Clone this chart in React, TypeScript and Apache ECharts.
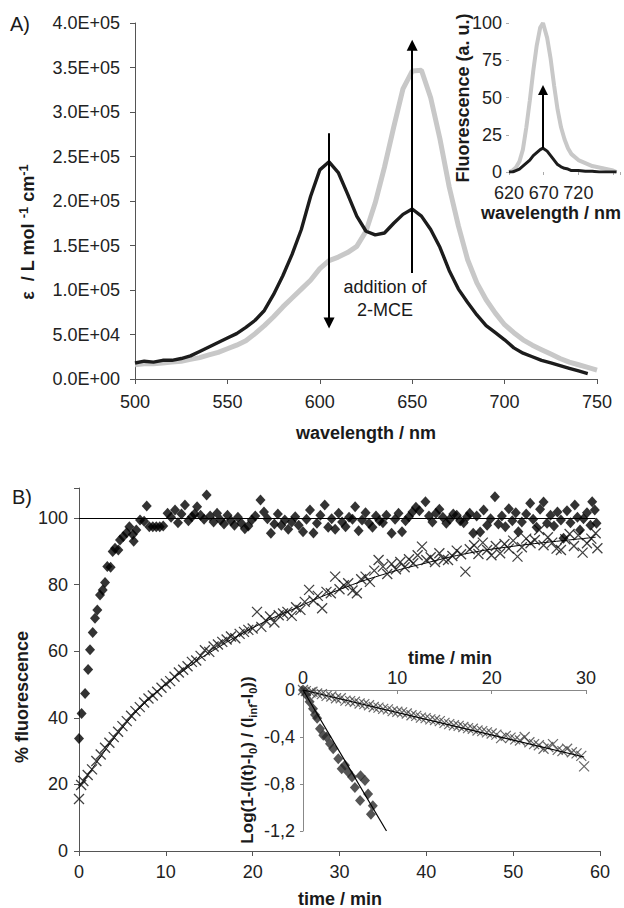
import React, { useEffect, useRef } from "react";
import * as echarts from "echarts";

const FONT = '"Liberation Sans", Arial, sans-serif';

// Panel A: absorption spectra (wavelength / nm, epsilon)
const absWavelength = [500,505,510,515,520,525,530,535,540,545,550,555,560,565,570,575,580,585,590,595,600,605,610,615,620,625,630,635,640,645,650,655,660,665,670,675,680,685,690,695,700,705,710,715,720,725,730,735,740,745,750];
const absBefore = [18000,20000,19000,21000,21000,23000,26000,31000,36000,41000,46000,51000,58000,66000,77000,95000,116000,140000,168000,205000,235000,244000,232000,208000,183000,166000,162000,164000,175000,185000,191000,183000,168000,148000,122000,101000,86000,72000,60000,52000,44000,35000,29000,25000,21000,18000,15000,12000,9000,6000];
const absAfter = [16000,17000,17000,18000,19000,20000,22000,24000,27000,30000,34000,38000,43000,51000,60000,70000,81000,91000,101000,111000,124000,133000,137000,142000,149000,166000,198000,238000,283000,326000,346000,347000,316000,270000,216000,172000,134000,108000,89000,74000,61000,52000,44000,38000,33000,28000,23000,19000,16000,13000,10000];

// Panel A inset: fluorescence spectra
const flWavelength = [620,625,630,635,640,645,650,655,660,665,669,675,680,685,690,695,700,705,710,720,730,740,750,760,770,775];
const flAfter = [0,1,3,7,15,30,48,68,85,97,100,90,76,58,42,30,22,16,12,8,6,4,3,2,1,0];
const flBefore = [0,0,1,2,4,6,8,11,13,15,16,14,11,8,5,3.5,2.5,2,1,1,0.5,0.5,0,0,0,0];

// Panel B: % fluorescence vs time / min
const diamondsB: number[][] = [
  [0,33.8],[0.3,41.3],[0.7,47.3],[1.05,54.5],[1.27,60.4],[1.58,65.6],[1.84,69.9],[2.11,72.4],[2.42,76.9],[2.73,78.4],
  [3.0,80.6],[3.26,85.4],[3.64,85.2],[3.88,89.9],[4.15,90.9],[4.53,90.4],[4.72,93.4],[5.1,94.4],[5.49,95.6],[5.8,97.4],
  [6.19,95],[6.3,93],[6.6,96.4],[7.03,99.4],[7.5,99],[7.8,103.6],[8.1,97.4],[8.5,97.4],[8.9,97.4],[9.3,97.4],
  [9.7,97.6],[10.2,101.4],[10.6,100.2],[11.06,102.4],[11.4,98.6],[11.8,101.2],[12.2,103.9],[12.6,99.2],[13.0,100.4],[13.3,101.2],
  [13.6,103.4],[14.0,100.8],[14.4,99.6],[14.7,106.9],[15.1,100.6],[15.5,98.8],[15.9,101.4],[16.3,99.4],[16.7,98.2],[17.1,100.8],
  [17.5,99.2],[17.9,97.8],[18.3,100.2],[18.7,98.4],[19.1,96.8],[19.5,97.6],[19.9,99.4],[20.3,100.6],[20.9,105.4],[21.3,101.8],
  [21.7,99.8],[22.1,95.4],[22.5,98.2],[22.9,101.2],[23.3,97.8],[23.7,99.4],[24.1,96.6],[24.5,98.8],[24.9,100.4],[25.3,97.8],
  [25.8,95.9],[26.2,99.6],[26.6,102.4],[27.0,95.5],[27.4,98.4],[27.8,100.8],[28.3,103.9],[28.7,97.2],[29.1,99.8],[29.5,96.6],
  [29.9,101.4],[30.3,98.8],[30.7,97.4],[31.1,100.2],[31.5,99.6],[31.8,103.4],[32.2,96.2],[32.6,99.4],[33.0,101.6],[33.4,98.4],
  [33.8,97.2],[34.2,100.6],[34.6,99.2],[35.0,98.6],[35.4,100.8],[36.0,95.4],[36.4,99.6],[36.8,101.4],[37.2,95.9],[37.6,99.2],
  [38.0,100.4],[38.4,101.8],[38.8,103.2],[39.2,102.2],[39.9,104.9],[40.3,100.6],[40.7,98.8],[41.1,101.4],[41.5,102.6],[41.9,100.2],
  [42.3,98.4],[42.7,99.6],[43.1,101.2],[43.5,100.8],[43.9,99.2],[44.3,98.6],[44.7,100.4],[45.0,101.4],[45.4,95.4],[45.8,100.6],
  [46.2,95.8],[46.6,102.4],[47.0,97.8],[47.4,99.8],[47.9,106.4],[48.3,98.2],[48.7,100.6],[49.1,97.4],[49.5,102.8],[49.9,99.2],
  [50.3,101.6],[50.6,95.9],[51.0,98.8],[51.5,101.2],[51.96,104.4],[52.3,99.6],[52.7,97.2],[53.1,102.6],[53.5,104.8],[53.9,98.4],
  [54.3,100.8],[54.7,97.6],[55.1,101.8],[55.5,99.4],[55.8,93.9],[56.2,102.2],[56.6,98.6],[57.1,103.9],[57.4,100.2],[57.7,96.4],
  [58.1,99.8],[58.5,101.6],[58.9,97.8],[59.1,104.9],[59.4,102.4],[59.6,98.4]
];
const crossesB: number[][] = [
  [0,15.6],[0.25,19.8],[0.5,21],[1,22.8],[1.5,24.5],[2,27],[2.5,29],[3,31],[3.5,32.5],[4,34.2],
  [4.5,35.8],[5,37.5],[5.5,39],[6,40.6],[6.5,42],[7,43.2],[7.5,44.6],[8,45.8],[8.5,46.7],[9,47.8],
  [9.5,49],[10,50.2],[10.5,51],[11,52.3],[11.5,53.6],[12,54.4],[12.5,55.5],[13,56.8],[13.5,57.2],[14,58.6],
  [14.5,60.3],[15,59.8],[15.5,61.4],[16,62],[16.5,62.8],[17,63.5],[17.5,64.4],[18,63.9],[18.5,65.2],[19,65.8],
  [19.5,66.4],[20,66.8],[20.5,71.8],[21,67.3],[21.5,69.2],[22,70.4],[22.5,68.6],[23,70.8],[23.5,71.3],[24,71.8],
  [24.5,70.6],[25,73.2],[25.5,72.4],[26,74.8],[26.5,78.4],[27,75.2],[27.5,76.6],[28,72.9],[28.5,77.8],[29,77.4],
  [29.5,82.4],[30,78.6],[30.5,79.8],[31,80.4],[31.5,78.2],[32,77.4],[32.5,81.6],[33,82.4],[33.5,80.8],[34,84.2],
  [34.5,87.4],[35,85.4],[35.5,83.2],[36,86.2],[36.5,84.6],[37,86.8],[37.5,85.2],[38,87.6],[38.5,86.4],[39,88.8],
  [39.5,91.4],[40,87.4],[40.5,88.2],[41,86.8],[41.5,89.4],[42,87.6],[42.5,87.4],[43,88.6],[43.5,90.2],[44,89.1],
  [44.5,83.9],[45,90.6],[45.5,91.8],[46,89.2],[46.5,92.6],[47,90.4],[47.5,88.8],[48,91.6],[48.5,89.4],[49,92.2],
  [49.5,90.8],[50,93.2],[50.5,88.4],[51,91.2],[51.5,93.8],[52,92.4],[52.5,93.4],[53,96.4],[53.5,91.8],[54,94.2],
  [54.5,92.6],[55,90.8],[55.5,90.4],[56,93.6],[56.5,95.2],[57,91.6],[57.5,94.8],[58,89.6],[58.5,92.4],[59,93.8],
  [59.5,95.4],[59.7,90.9]
];
const crossesFitB: number[][] = [[0,19],[2,26.5],[5,37],[8,45.5],[10,50],[13,56],[15,59.5],[20,67],[25,73],[30,78.5],[35,83],[40,86.5],[45,89.5],[50,91.5],[55,93],[59.5,94.2]];

// Panel B inset: Log(1-(I(t)-I0)/(Iinf-I0)) vs time / min
const crossesLog: number[][] = [
  [0,0],[0.3,-0.01],[0.5,0.01],[0.8,-0.02],[1,-0.015],[1.5,-0.03],[2,-0.035],[2.5,-0.05],[3,-0.055],[3.5,-0.07],
  [4,-0.07],[4.5,-0.09],[5,-0.095],[5.5,-0.1],[6,-0.115],[6.5,-0.12],[7,-0.13],[7.5,-0.145],[8,-0.15],[8.5,-0.16],
  [9,-0.165],[9.5,-0.18],[10,-0.185],[10.5,-0.19],[11,-0.2],[11.5,-0.215],[12,-0.22],[12.5,-0.235],[13,-0.24],[13.5,-0.25],
  [14,-0.255],[14.5,-0.265],[15,-0.28],[15.5,-0.29],[16,-0.3],[16.5,-0.305],[17,-0.315],[17.5,-0.325],[18,-0.33],[18.5,-0.345],
  [19,-0.35],[19.5,-0.36],[20,-0.37],[20.5,-0.38],[21,-0.41],[21.5,-0.39],[22,-0.405],[22.5,-0.42],[23,-0.43],[23.5,-0.4],
  [24,-0.445],[24.5,-0.46],[25,-0.47],[25.5,-0.5],[26,-0.485],[26.5,-0.46],[27,-0.51],[27.5,-0.52],[28,-0.5],[28.5,-0.53],
  [29,-0.54],[29.5,-0.56],[29.8,-0.65]
];
const diamondsLog: number[][] = [
  [0,0],[0.35,-0.04],[0.7,-0.1],[1.06,-0.16],[1.27,-0.21],[1.5,-0.24],[1.8,-0.33],[2.15,-0.385],[2.5,-0.4],[2.86,-0.457],
  [3.2,-0.5],[3.74,-0.585],[4.1,-0.67],[4.45,-0.64],[4.8,-0.7],[5.2,-0.74],[5.5,-0.83],[6.05,-0.94],[6.1,-0.73],[6.57,-0.77],
  [6.9,-0.885],[7.2,-1.057],[7.4,-0.985]
];
const crossesLogFit: number[][] = [[0,0],[29.8,-0.57]];
const diamondsLogFit: number[][] = [[0,0],[8.85,-1.2]];

const CROSS = "path://M0,0L10,10M10,0L0,10";

function sci(v: number): string {
  if (v === 0) return "0.0E+00";
  const e = Math.floor(Math.log10(v) + 1e-9);
  const m = v / Math.pow(10, e);
  return m.toFixed(1) + "E+" + String(e).padStart(2, "0");
}

const axisText = { fontSize: 18, fontFamily: FONT, color: "#222" };

function txt(x: number, y: number, text: string, extra: any = {}, rotation = 0): any {
  return {
    type: "text",
    x,
    y,
    rotation,
    z: 50,
    style: {
      text,
      fill: "#1a1a1a",
      fontSize: 18,
      fontFamily: FONT,
      align: "center",
      verticalAlign: "middle",
      ...extra,
    },
  };
}

export default function App() {
  const ref = useRef<HTMLDivElement>(null);
  useEffect(() => {
    if (!ref.current) return;
    const chart = echarts.init(ref.current, null, { renderer: "svg" });
    const axisLineDark = { show: true, lineStyle: { color: "#555", width: 1 } };
    const tickOut = { show: true, length: 5, lineStyle: { color: "#555" } };
    const arrowLine = {
      silent: true, animation: false, symbol: ["none", "triangle"], symbolSize: 11,
      label: { show: false },
      lineStyle: { color: "#000", width: 2, type: "solid" },
      itemStyle: { color: "#000" },
      emphasis: { disabled: true },
    };
    const option: any = {
      animation: false,
      backgroundColor: "#fff",
      grid: [
        { left: 135, top: 23, width: 462, height: 356 },
        { left: 509, top: 23, width: 111, height: 149 },
        { left: 79, top: 488, width: 521, height: 363 },
        { left: 303, top: 690, width: 283, height: 141 },
      ],
      xAxis: [
        {
          gridIndex: 0, type: "value", min: 500, max: 750, interval: 50,
          axisLine: axisLineDark, axisTick: tickOut, splitLine: { show: false },
          axisLabel: { ...axisText, margin: 14 },
        },
        {
          gridIndex: 1, type: "value", min: 620, max: 780, interval: 50,
          axisLine: { show: false }, axisTick: { show: true, length: 3, lineStyle: { color: "#aaa" } },
          splitLine: { show: false },
          axisLabel: { ...axisText, margin: 12, formatter: (v: number) => (v <= 720 && (v - 620) % 50 === 0 ? String(v) : "") },
        },
        {
          gridIndex: 2, type: "value", min: 0, max: 60, interval: 10,
          axisLine: axisLineDark, axisTick: tickOut, splitLine: { show: false },
          axisLabel: { ...axisText, margin: 12 },
        },
        {
          gridIndex: 3, type: "value", min: 0, max: 30, interval: 10, position: "top",
          axisLine: { show: true, onZero: false, lineStyle: { color: "#888" } },
          axisTick: { show: true, inside: true, length: 4, lineStyle: { color: "#888" } },
          splitLine: { show: false },
          axisLabel: { ...axisText, margin: 3 },
        },
      ],
      yAxis: [
        {
          gridIndex: 0, type: "value", min: 0, max: 400000, interval: 50000,
          axisLine: axisLineDark, axisTick: tickOut, splitLine: { show: false },
          axisLabel: { ...axisText, margin: 15, formatter: sci },
        },
        {
          gridIndex: 1, type: "value", min: 0, max: 100, interval: 25,
          axisLine: { show: false }, axisTick: { show: true, length: 3, lineStyle: { color: "#aaa" } },
          splitLine: { show: false },
          axisLabel: { ...axisText, margin: 7 },
        },
        {
          gridIndex: 2, type: "value", min: 0, max: 109, interval: 20,
          axisLine: axisLineDark, axisTick: tickOut, splitLine: { show: false },
          axisLabel: { ...axisText, margin: 11, formatter: (v: number) => (v % 20 === 0 ? String(v) : "") },
        },
        {
          gridIndex: 3, type: "value", min: -1.2, max: 0, interval: 0.4,
          axisLine: { show: true, onZero: false, lineStyle: { color: "#888" } },
          axisTick: { show: true, length: 3, lineStyle: { color: "#888" } },
          splitLine: { show: false },
          axisLabel: {
            ...axisText, margin: 8,
            formatter: (v: number) => (Math.abs(v) < 1e-9 ? "0" : v.toFixed(1).replace(".", ",")),
          },
        },
      ],
      series: [
        {
          type: "line", xAxisIndex: 0, yAxisIndex: 0, showSymbol: false, z: 2,
          data: absWavelength.map((w, i) => [w, absAfter[i]]),
          lineStyle: { color: "#c8c8c8", width: 5 },
        },
        {
          type: "line", xAxisIndex: 0, yAxisIndex: 0, showSymbol: false, z: 3,
          data: absWavelength.slice(0, absBefore.length).map((w, i) => [w, absBefore[i]]),
          lineStyle: { color: "#1c1c1c", width: 3.4 },
          markLine: {
            ...arrowLine,
            data: [
              [{ coord: [605, 276000] }, { coord: [605, 63000] }],
              [{ coord: [650, 119000] }, { coord: [650, 375000] }],
            ],
          },
        },
        {
          type: "line", xAxisIndex: 1, yAxisIndex: 1, showSymbol: false, z: 2,
          data: flWavelength.map((w, i) => [w, flAfter[i]]),
          lineStyle: { color: "#c8c8c8", width: 4 },
        },
        {
          type: "line", xAxisIndex: 1, yAxisIndex: 1, showSymbol: false, z: 3,
          data: flWavelength.map((w, i) => [w, flBefore[i]]),
          lineStyle: { color: "#1c1c1c", width: 3 },
          markLine: {
            ...arrowLine,
            symbolSize: 10,
            data: [[{ coord: [669, 16] }, { coord: [669, 55] }]],
          },
        },
        {
          type: "line", xAxisIndex: 2, yAxisIndex: 2, showSymbol: false, z: 2,
          data: crossesFitB, smooth: true,
          lineStyle: { color: "#000", width: 1 },
        },
        {
          type: "scatter", xAxisIndex: 2, yAxisIndex: 2, z: 3,
          symbol: CROSS, symbolSize: 10, data: crossesB,
          itemStyle: { color: "transparent", borderColor: "#111", borderWidth: 1.3 },
        },
        {
          type: "scatter", xAxisIndex: 2, yAxisIndex: 2, z: 4,
          symbol: "diamond", symbolSize: [10, 11], data: diamondsB,
          itemStyle: { color: "#000" },
          markLine: {
            silent: true, animation: false, symbol: ["none", "none"],
            label: { show: false },
            lineStyle: { color: "#000", width: 1, type: "solid" },
            data: [[{ coord: [0, 100] }, { coord: [59.5, 100] }]],
          },
        },
        {
          type: "scatter", xAxisIndex: 3, yAxisIndex: 3, z: 5,
          symbol: CROSS, symbolSize: 10, data: crossesLog,
          itemStyle: { color: "transparent", borderColor: "#444", borderWidth: 1.2 },
        },
        {
          type: "scatter", xAxisIndex: 3, yAxisIndex: 3, z: 5,
          symbol: "diamond", symbolSize: [10, 11], data: diamondsLog,
          itemStyle: { color: "#2a2a2a" },
        },
        {
          type: "line", xAxisIndex: 3, yAxisIndex: 3, showSymbol: false, z: 6,
          data: crossesLogFit, lineStyle: { color: "#000", width: 1.2 },
        },
        {
          type: "line", xAxisIndex: 3, yAxisIndex: 3, showSymbol: false, z: 6,
          data: diamondsLogFit, lineStyle: { color: "#000", width: 1.2 },
        },
      ],
      graphic: [
        txt(10, 24, "A)", { fontSize: 20, align: "left" }),
        txt(12, 497, "B)", { fontSize: 20, align: "left" }),
        txt(28, 232, "{b|ε  / L mol }{s|-1}{b| cm}{s|-1}", {
          rich: {
            b: { fontSize: 18, fontWeight: "bold", fontFamily: FONT, fill: "#1a1a1a", lineHeight: 22 },
            s: { fontSize: 13, fontWeight: "bold", fontFamily: FONT, fill: "#1a1a1a", verticalAlign: "top", lineHeight: 14 },
          },
        }, Math.PI / 2),
        txt(366, 433, "wavelength / nm", { fontWeight: "bold" }),
        txt(463, 98, "Fluorescence (a. u.)", { fontWeight: "bold" }, Math.PI / 2),
        txt(551, 213, "wavelength / nm", { fontWeight: "bold" }),
        txt(385, 287, "addition of"),
        txt(385, 310, "2-MCE"),
        txt(22, 697, "% fluorescence", { fontWeight: "bold" }, Math.PI / 2),
        txt(340, 899, "time / min", { fontWeight: "bold" }),
        txt(450, 658, "time / min", { fontWeight: "bold" }),
        txt(247, 760, "{b|Log(1-(I(t)-I}{u|0}{b|) / (I}{u|inf}{b|-I}{u|0}{b|))}", {
          rich: {
            b: { fontSize: 17, fontWeight: "bold", fontFamily: FONT, fill: "#1a1a1a", lineHeight: 22 },
            u: { fontSize: 11, fontWeight: "bold", fontFamily: FONT, fill: "#1a1a1a", verticalAlign: "bottom", lineHeight: 12 },
          },
        }, Math.PI / 2),
      ],
    };
    chart.setOption(option);
    return () => chart.dispose();
  }, []);
  return (
    <div
      ref={ref}
      style={{ position: "absolute", left: 0, top: 0, width: 624, height: 908, background: "#fff" }}
    />
  );
}
